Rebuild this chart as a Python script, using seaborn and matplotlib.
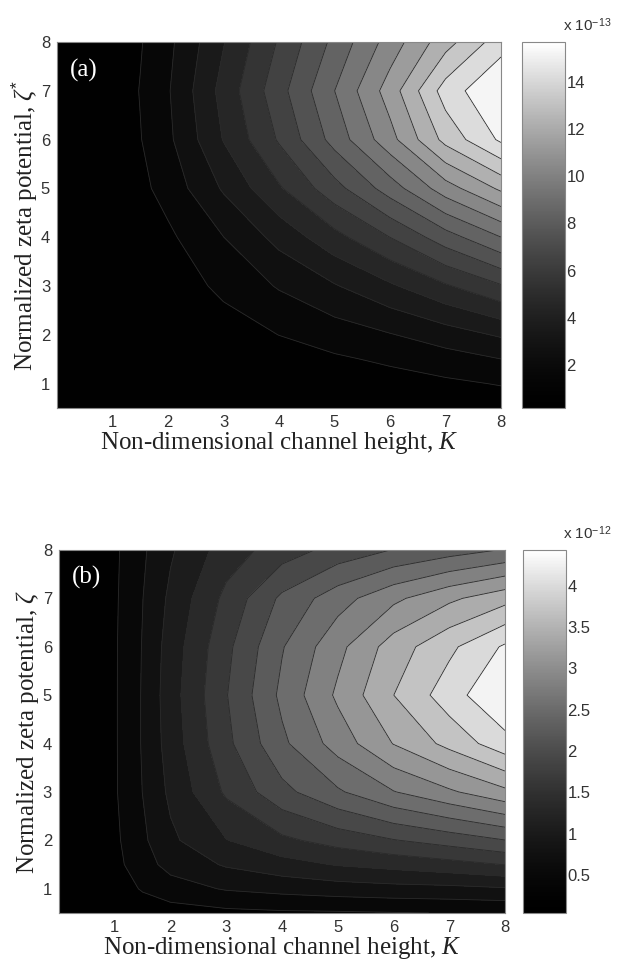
import numpy as np
import matplotlib
matplotlib.use("Agg")
import matplotlib.pyplot as plt
import matplotlib.colors as mcolors
import matplotlib.cm as cm
import seaborn as sns

# ===================== Data =====================
# grid: non-dimensional channel height K (columns) and zeta potential (rows)
K = [0, 0.5, 1, 1.5, 2, 3, 4, 5, 6, 7, 8]
zeta = [0.5, 1, 1.5, 2, 3, 4, 5, 6, 7, 8]

# panel (a), units of 1e-13, one list per K value (bottom -> top in zeta)
vals_a = [
    [0.17, 0.17, 0.17, 0.17, 0.17, 0.18, 0.18, 0.19, 0.19, 0.19],   # K=0
    [0.17, 0.18, 0.19, 0.20, 0.22, 0.25, 0.28, 0.30, 0.31, 0.30],   # K=0.5
    [0.18, 0.20, 0.22, 0.25, 0.30, 0.36, 0.42, 0.48, 0.50, 0.46],   # K=1
    [0.20, 0.23, 0.27, 0.32, 0.45, 0.65, 0.90, 1.10, 1.18, 1.07],   # K=1.5
    [0.22, 0.28, 0.35, 0.45, 0.60, 0.95, 1.50, 1.90, 2.02, 1.86],   # K=2
    [0.25, 0.30, 0.45, 0.70, 1.35, 2.10, 3.20, 4.10, 4.40, 4.00],   # K=3
    [0.28, 0.45, 0.70, 1.15, 2.20, 3.40, 4.90, 6.10, 6.60, 6.10],   # K=4
    [0.32, 0.60, 1.00, 1.60, 3.00, 4.70, 6.60, 8.30, 8.90, 8.20],   # K=5
    [0.38, 0.75, 1.30, 2.05, 3.90, 6.00, 8.40, 10.5, 11.3, 10.3],   # K=6
    [0.45, 0.95, 1.70, 2.60, 4.90, 7.50, 10.4, 13.1, 14.2, 12.4],   # K=7
    [0.55, 1.20, 2.10, 3.20, 5.90, 8.90, 12.0, 14.9, 15.7, 14.3],   # K=8
]

# panel (b), units of 1e-12
vals_b = [
    [0.04, 0.04, 0.04, 0.04, 0.04, 0.04, 0.04, 0.04, 0.04, 0.04],   # K=0
    [0.05, 0.07, 0.09, 0.10, 0.10, 0.10, 0.10, 0.10, 0.10, 0.10],   # K=0.5
    [0.09, 0.18, 0.24, 0.27, 0.30, 0.30, 0.30, 0.30, 0.29, 0.28],   # K=1
    [0.16, 0.36, 0.51, 0.57, 0.63, 0.65, 0.65, 0.64, 0.62, 0.58],   # K=1.5
    [0.20, 0.50, 0.72, 0.86, 0.98, 1.05, 1.08, 1.05, 0.98, 0.88],   # K=2
    [0.26, 0.65, 0.95, 1.20, 1.55, 1.72, 1.78, 1.72, 1.58, 1.35],   # K=3
    [0.29, 0.72, 1.10, 1.44, 2.00, 2.32, 2.45, 2.36, 2.15, 1.65],   # K=4
    [0.30, 0.78, 1.23, 1.62, 2.34, 2.80, 3.02, 2.88, 2.55, 1.90],   # K=5
    [0.32, 0.82, 1.31, 1.78, 2.66, 3.27, 3.55, 3.40, 2.90, 2.10],   # K=6
    [0.34, 0.84, 1.40, 1.92, 2.92, 3.64, 4.00, 3.78, 3.20, 2.25],   # K=7
    [0.35, 0.89, 1.51, 2.08, 3.19, 4.03, 4.43, 4.18, 3.45, 2.40],   # K=8
]

cbar_ticks_a = [2, 4, 6, 8, 10, 12, 14]
cbar_ticks_b = [0.5, 1, 1.5, 2, 2.5, 3, 3.5, 4]
cbar_labels_b = ["0.5", "1", "1.5", "2", "2.5", "3", "3.5", "4"]

# ===================== Style =====================
sns.set_theme(style="white")
plt.rcParams["font.family"] = ["Liberation Sans", "DejaVu Sans"]
plt.rcParams["mathtext.fontset"] = "custom"
plt.rcParams["mathtext.rm"] = "Liberation Sans"
plt.rcParams["mathtext.it"] = "Liberation Serif:italic"
serif = ["Liberation Serif", "DejaVu Serif"]
tick_col = "#333333"

# scanned print: dark tones are crushed, so the gray map gets a gamma
gray_print = mcolors.LinearSegmentedColormap.from_list("gray_print", ["black", "white"], gamma=1.5)

fig = plt.figure(figsize=(6.17, 9.66), dpi=100)

panels = [
    # data, n levels, panel tag, axes rect, cbar rect, ticks, tick labels, exponent, ylabel
    (vals_a, 16, "(a)", [0.0924, 0.5776, 0.7196, 0.3789], [0.846, 0.5776, 0.0697, 0.3789],
     cbar_ticks_a, [str(t) for t in cbar_ticks_a], "-13", r"Normalized zeta potential, $\zeta^{*}$"),
    (vals_b, 15, "(b)", [0.0956, 0.0549, 0.7229, 0.3758], [0.8477, 0.0549, 0.0697, 0.3758],
     cbar_ticks_b, cbar_labels_b, "-12", r"Normalized zeta potential, $\zeta$"),
]

X, Y = np.meshgrid(K, zeta)

for vals, nlev, tag, rect, crect, cticks, clabels, expo, ylab in panels:
    Z = np.array(vals).T
    zmin, zmax = Z.min(), Z.max()
    levels = np.linspace(zmin, zmax, nlev + 1)
    norm = mcolors.Normalize(vmin=zmin, vmax=zmax)

    ax = fig.add_axes(rect)
    ax.contourf(X, Y, Z, levels=levels, cmap=gray_print, norm=norm)
    ax.contour(X, Y, Z, levels=levels[1:-1], colors="#2a2a2a", linewidths=0.6)
    ax.set_xlim(0, 8)
    ax.set_ylim(0.5, 8)
    ax.set_xticks(range(1, 9))
    ax.set_yticks(range(1, 9))
    ax.tick_params(direction="in", length=3, width=0.6, top=True, right=True,
                   labelsize=12, colors="#555555", labelcolor=tick_col, pad=5)
    for s in ax.spines.values():
        s.set_color("#888888")
        s.set_linewidth(0.8)
    ax.set_xlabel("Non-dimensional channel height, $K$", family=serif, fontsize=18,
                  color="#222222", labelpad=0)
    ax.set_ylabel(ylab, family=serif, fontsize=18, color="#222222", labelpad=1)
    ax.text(0.03, 0.955, tag, transform=ax.transAxes, family=serif, fontsize=18,
            color="white", ha="left", va="top")

    # smooth colorbar like the original
    cax = fig.add_axes(crect)
    cb = fig.colorbar(cm.ScalarMappable(norm=norm, cmap=gray_print), cax=cax)
    cb.set_ticks(cticks)
    cb.set_ticklabels(clabels)
    cb.outline.set_edgecolor("#888888")
    cb.outline.set_linewidth(0.8)
    cax.tick_params(direction="in", length=3, width=0.6, left=True, right=True,
                    labelsize=12, colors="#777777", labelcolor=tick_col, pad=1)
    fig.text(0.912, crect[1] + crect[3] + 0.008,
             "x 10$^{%s}$" % expo, fontsize=11, color=tick_col, ha="left", va="bottom")

fig.savefig("out.png", dpi=100)
